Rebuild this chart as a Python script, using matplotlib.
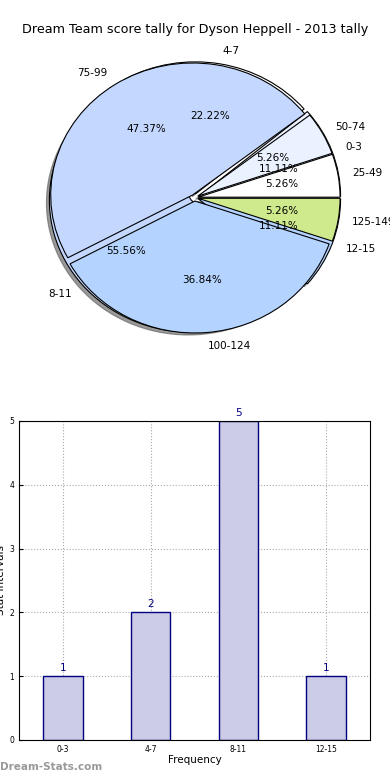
import matplotlib
matplotlib.use('Agg')
import matplotlib.pyplot as plt

title = 'Dream Team score tally for Dyson Heppell - 2013 tally'

freq_labels = ['0-3', '4-7', '8-11', '12-15']
freq_counts = [1, 2, 5, 1]

score_labels = ['25-49', '50-74', '75-99', '100-124', '125-149']
score_counts = [1, 1, 9, 7, 1]

freq_colors = ['#eaf1ff', '#ffffff', '#c4d8ff', '#b4d4ff']
score_colors = ['#ffffff', '#eaf1ff', '#c4d8ff', '#b4d4ff', '#ceea8c']

fig = plt.figure(figsize=(3.9, 7.8), dpi=100)
fig.text(0.5, 0.962, title, ha='center', va='center', fontsize=9.2)

# pie: two tallies drawn on top of each other
ax1 = fig.add_axes([0.044, 0.535, 0.91, 0.423])
ax1.pie(freq_counts, labels=freq_labels, colors=freq_colors,
        explode=[0.03] * len(freq_counts), autopct='%1.2f%%',
        shadow=dict(ox=-0.015, oy=-0.015, color='#555555', alpha=0.6),
        wedgeprops=dict(edgecolor='black', linewidth=0.8),
        textprops=dict(fontsize=7.5))
ax1.pie(score_counts, labels=score_labels, colors=score_colors,
        explode=[0.025] * len(score_counts), autopct='%1.2f%%',
        wedgeprops=dict(edgecolor='black', linewidth=0.8),
        textprops=dict(fontsize=7.5))
ax1.set_aspect('auto')
ax1.set_xlim(-1.25, 1.25)
ax1.set_ylim(-1.25, 1.25)

# bar chart of frequencies
ax2 = fig.add_axes([0.0487, 0.0513, 0.9, 0.409])
x = range(len(freq_counts))
ax2.bar(x, freq_counts, width=0.45, color='#ccccE6', edgecolor='navy', linewidth=1, zorder=2)
for i, v in zip(x, freq_counts):
    ax2.text(i, v + 0.05, str(v), ha='center', va='bottom', color='navy', fontsize=7.5)
ax2.set_xlim(-0.5, 3.5)
ax2.set_ylim(0, 5)
ax2.set_xticks(list(x))
ax2.set_xticklabels(freq_labels)
ax2.tick_params(labelsize=5.5, direction='in', length=3)
ax2.grid(True, linestyle=':', color='#aaaaaa', linewidth=0.8, zorder=0)
ax2.set_xlabel('Frequency', fontsize=7.5, labelpad=1)
ax2.set_ylabel('Stat Intervals', fontsize=7.5, labelpad=2)

fig.text(0.0, 0.013, 'Dream-Stats.com', fontsize=7.5, color='#999999', fontweight='bold')

fig.savefig('out.png', dpi=100)
